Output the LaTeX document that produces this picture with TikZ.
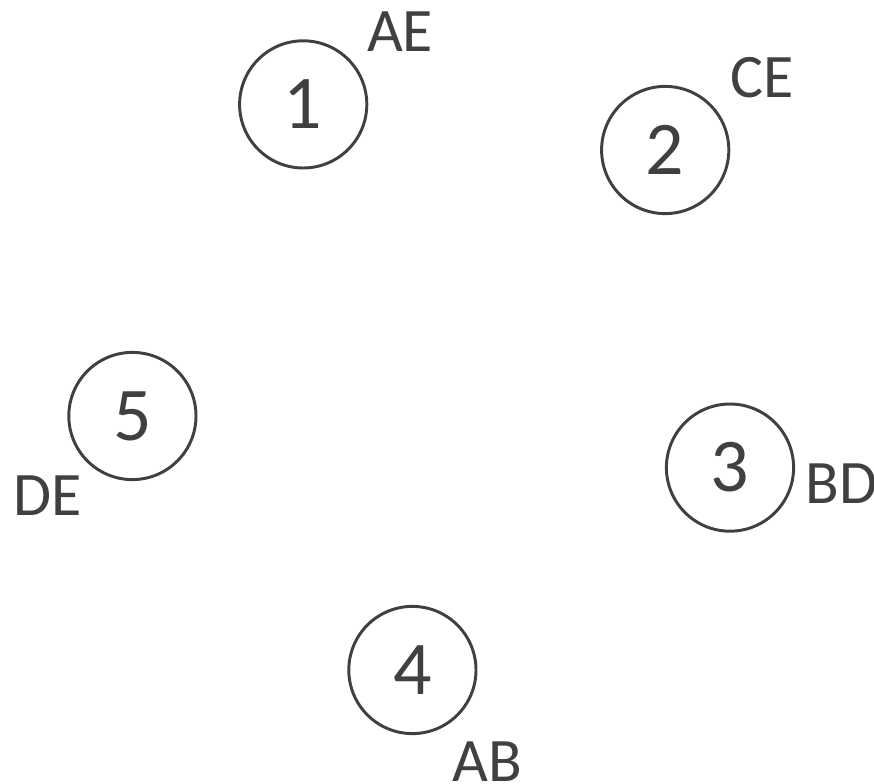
\documentclass[tikz,border=0pt]{standalone}
\usepackage{fontspec}
\setmainfont{Carlito}
\definecolor{ink}{HTML}{404040}
\begin{document}
\begin{tikzpicture}[-, node distance = 2cm,
    vertex/.style={circle, draw=ink, line width=2.1pt, minimum size=3.18cm, inner sep=0pt, text=ink, font=\fontsize{54}{54}\selectfont},
    tag/.style={inner sep=0pt, text=ink, font=\fontsize{44}{44}\selectfont}]
    \useasboundingbox (0,0) rectangle (21.85,-19.6);

    \node[vertex](V1) at (7.58, -2.61) {1};
    \node[vertex](V2) at (16.63, -3.75) {2};
    \node[vertex](V3) at (18.25, -11.69) {3};
    \node[vertex](V4) at (10.31, -16.75) {4};
    \node[vertex](V5) at (3.31, -10.40) {5};

    \node[tag](L_1) at (10.00, -0.80) {AE};
    \node[tag](L_2) at (19.05, -1.95) {CE};
    \node[tag](L_3) at (21.03, -12.10) {BD};
    \node[tag](L_4) at (12.18, -19.05) {AB};
    \node[tag](L_5) at (1.18, -12.40) {DE};
\end{tikzpicture}
\end{document}
